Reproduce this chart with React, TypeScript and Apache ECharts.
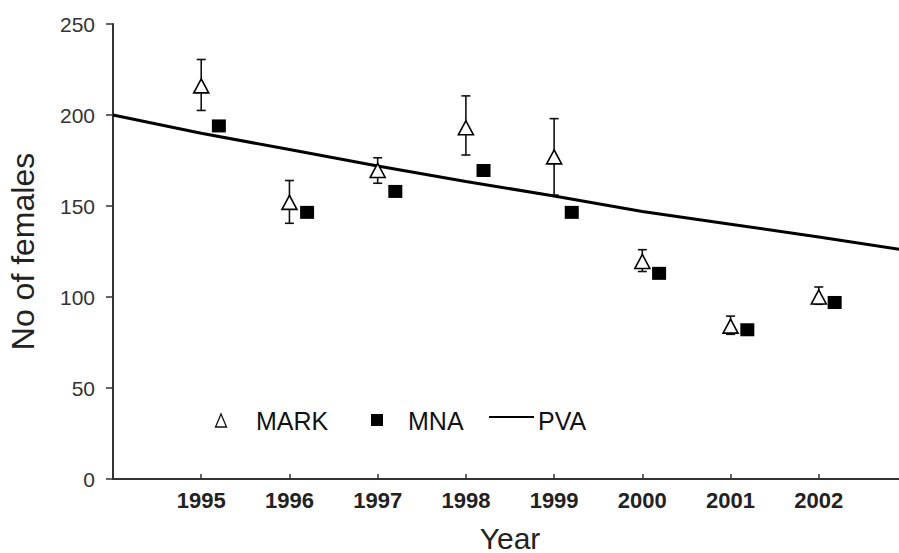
import React, { useEffect, useRef } from "react";
import * as echarts from "echarts";

// ---- data ----
const years = [1995, 1996, 1997, 1998, 1999, 2000, 2001, 2002];
const markValues = [216, 152, 169.5, 193, 177, 119.5, 84, 100];
const markHigh = [230.5, 164, 176.5, 210.5, 198, 126, 89.5, 105.5];
const markLow = [202.5, 140.5, 162.5, 178, 156, 114, 79.5, 96];
const mnaYears = [1995.2, 1996.2, 1997.2, 1998.2, 1999.2, 2000.19, 2001.19, 2002.18];
const mnaValues = [194, 146.5, 158, 169.5, 146.5, 113, 82, 97];
const pvaYears = [1994, 1995, 1996, 1997, 1998, 1999, 2000, 2001, 2002, 2003];
const pvaValues = [200, 190, 181, 172, 163.5, 155.5, 147, 140, 133, 125.5];
const yTicks = [0, 50, 100, 150, 200, 250];
const legendNames = ["MARK", "MNA", "PVA"];

const FONT = "Arial, 'Liberation Sans', Helvetica, sans-serif";

export default function App() {
  const ref = useRef<HTMLDivElement>(null);
  useEffect(() => {
    if (!ref.current) return;
    const chart = echarts.init(ref.current, null, { renderer: "svg", width: 899, height: 553 });
    const markData = years.map((y, i) => [y, markValues[i]]);
    const errData = years.map((y, i) => [y, markLow[i], markHigh[i]]);
    const mnaData = mnaYears.map((y, i) => [y, mnaValues[i]]);
    const pvaData = pvaYears.map((y, i) => [y, pvaValues[i]]);

    const option: any = {
      animation: false,
      backgroundColor: "#ffffff",
      grid: {
        left: 113,
        right: -8,
        top: 24,
        bottom: 74,
        containLabel: false,
        outerBoundsMode: "none",
      },
      xAxis: {
        type: "value",
        min: 1994,
        max: 2003,
        interval: 1,
        name: "Year",
        nameLocation: "middle",
        nameGap: 44,
        nameTextStyle: { fontFamily: FONT, fontSize: 30, color: "#222", verticalAlign: "top" },
        axisLine: { show: true, lineStyle: { color: "#333", width: 2 } },
        axisTick: { show: true, inside: true, length: 5, lineStyle: { color: "#333", width: 1.5 } },
        splitLine: { show: false },
        axisLabel: {
          margin: 10,
          fontFamily: FONT,
          fontSize: 22,
          fontWeight: "bold",
          color: "#222",
          formatter: (v: number) => (years.indexOf(v) >= 0 ? String(v) : ""),
        },
      },
      yAxis: {
        type: "value",
        min: yTicks[0],
        max: yTicks[yTicks.length - 1],
        interval: 50,
        name: "No of females",
        nameLocation: "middle",
        nameGap: 74,
        nameRotate: 90,
        nameTextStyle: { fontFamily: FONT, fontSize: 32, color: "#222" },
        axisLine: { show: true, lineStyle: { color: "#333", width: 2 } },
        axisTick: { show: true, inside: false, length: 7, lineStyle: { color: "#333", width: 1.5 } },
        splitLine: { show: false },
        axisLabel: { margin: 18, fontFamily: FONT, fontSize: 21, color: "#333" },
      },
      series: [
        {
          name: "PVA",
          type: "line",
          data: pvaData,
          showSymbol: false,
          symbol: "none",
          lineStyle: { color: "#000", width: 3 },
          z: 2,
        },
        {
          name: "MARK error",
          type: "custom",
          data: errData,
          z: 3,
          renderItem: (params: any, api: any) => {
            const x = api.value(0);
            const pLo = api.coord([x, api.value(1)]);
            const pHi = api.coord([x, api.value(2)]);
            const w = 4.5;
            const st = { stroke: "#111", lineWidth: 1.6 };
            return {
              type: "group",
              children: [
                { type: "line", shape: { x1: pHi[0], y1: pHi[1], x2: pLo[0], y2: pLo[1] }, style: st },
                { type: "line", shape: { x1: pHi[0] - w, y1: pHi[1], x2: pHi[0] + w, y2: pHi[1] }, style: st },
                { type: "line", shape: { x1: pLo[0] - w, y1: pLo[1], x2: pLo[0] + w, y2: pLo[1] }, style: st },
              ],
            };
          },
        },
        {
          name: "MARK",
          type: "scatter",
          data: markData,
          symbol: "triangle",
          symbolSize: [15, 14],
          itemStyle: { color: "#ffffff", borderColor: "#000", borderWidth: 1.6, opacity: 1 },
          z: 4,
        },
        {
          name: "MNA",
          type: "scatter",
          data: mnaData,
          symbol: "rect",
          symbolSize: [14, 13],
          itemStyle: { color: "#000", opacity: 1 },
          z: 4,
        },
      ],
      graphic: [
        {
          type: "polygon",
          shape: { points: [[221, 414], [215.5, 427], [226.5, 427]] },
          style: { fill: "#fff", stroke: "#111", lineWidth: 1.3 },
        },
        {
          type: "text",
          x: 256,
          y: 421,
          style: { text: legendNames[0], font: `25px ${FONT}`, fill: "#111", verticalAlign: "middle" },
        },
        {
          type: "rect",
          shape: { x: 371, y: 414, width: 12, height: 12 },
          style: { fill: "#000" },
        },
        {
          type: "text",
          x: 408,
          y: 421,
          style: { text: legendNames[1], font: `25px ${FONT}`, fill: "#111", verticalAlign: "middle" },
        },
        {
          type: "line",
          shape: { x1: 489, y1: 417, x2: 534, y2: 417 },
          style: { stroke: "#000", lineWidth: 2 },
        },
        {
          type: "text",
          x: 538,
          y: 421,
          style: { text: legendNames[2], font: `25px ${FONT}`, fill: "#111", verticalAlign: "middle" },
        },
      ],
    };
    chart.setOption(option);
    return () => chart.dispose();
  }, []);
  return (
    <div
      ref={ref}
      style={{ position: "fixed", left: 0, top: 0, width: 899, height: 553, background: "#fff" }}
    />
  );
}
